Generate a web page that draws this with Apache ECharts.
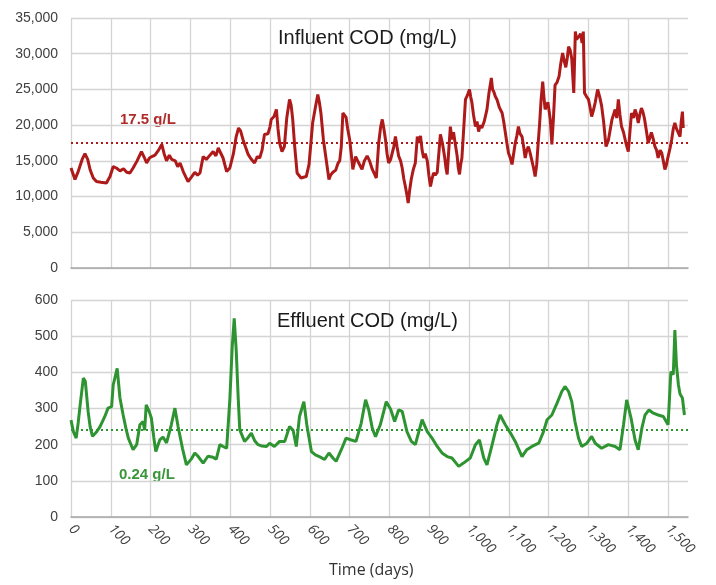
<!DOCTYPE html>
<html><head><meta charset="utf-8">
<script src="https://cdn.jsdelivr.net/npm/echarts@6/dist/echarts.min.js"></script>
<style>html,body{margin:0;padding:0;background:#fff}#c{width:716px;height:585px}</style>
</head><body><div id="c"></div>
<script>
// ---- Data ----
const influentDays = [0,5,10,18,28,35,42,48,56,64,75,89,98,106,114,123,132,140,148,156,166,177,184,190,197,203,211,220,228,234,240,247,253,262,268,274,282,288,294,302,311,318,324,332,340,349,357,364,370,376,382,391,399,408,415,421,426,432,438,445,452,461,468,474,480,486,495,500,503,510,516,520,524,530,536,542,549,553,557,562,568,578,584,591,598,607,614,620,624,628,634,641,648,652,658,665,671,675,679,683,687,691,695,700,704,708,715,722,731,737,744,750,757,762,767,773,778,782,786,790,794,798,803,807,811,815,819,823,828,832,836,840,844,847,851,855,860,865,870,874,878,882,886,890,895,899,903,907,911,915,920,924,928,933,939,942,945,949,953,957,961,965,970,973,976,979,982,986,991,996,1001,1004,1007,1011,1016,1020,1024,1028,1032,1038,1045,1050,1056,1059,1062,1066,1070,1076,1083,1087,1091,1095,1099,1103,1108,1112,1116,1120,1124,1128,1133,1137,1141,1145,1149,1153,1158,1162,1166,1170,1173,1177,1181,1185,1188,1191,1195,1198,1201,1204,1208,1212,1216,1221,1226,1230,1235,1239,1243,1247,1250,1254,1258,1263,1267,1270,1273,1277,1280,1284,1287,1290,1295,1300,1304,1308,1312,1317,1323,1328,1333,1338,1344,1350,1355,1359,1363,1367,1371,1375,1379,1383,1388,1394,1400,1404,1408,1413,1417,1421,1425,1429,1433,1437,1441,1446,1450,1454,1458,1463,1467,1471,1475,1480,1484,1488,1492,1496,1500,1505,1509,1513,1517,1521,1525,1530,1533,1536,1538];
const influentValues = [14000,13200,12400,13500,15200,16000,15200,13750,12600,12100,12000,11900,12800,14200,14000,13600,13900,13400,13300,14000,15000,16300,15500,14700,15400,15600,15800,16500,17300,16000,15000,15800,15200,15000,14200,14700,13500,12800,12100,12700,13400,13000,13300,15600,15200,15800,16300,15700,16800,16100,15400,13500,14000,16000,18400,19600,19200,18000,17000,15900,15300,14700,15600,15400,16500,18700,18800,19800,20800,21200,22200,19500,17500,16300,17000,21000,23600,22800,20800,17000,13300,12600,12700,12800,14500,20300,22500,24300,23200,21600,18000,15200,12400,13000,13400,13700,14700,15000,17000,21700,21500,21100,19500,18000,16000,13800,15600,14800,13800,15000,15700,15000,13800,13200,12600,17500,19800,20800,19500,18000,16000,14700,15200,15400,17000,18400,17000,15700,15000,14000,12500,11400,10200,9100,11000,12500,13800,14700,18400,17500,18500,16500,15400,16000,15000,13000,11400,12500,13300,13000,13400,16000,18700,17500,15400,14000,13100,16500,19800,18000,19000,17500,15700,14000,13100,14500,15400,19000,23600,24200,25000,24000,23200,21500,19800,20500,19100,20000,19600,20500,22200,24500,26600,25000,24700,24000,23600,22500,21700,20500,19000,17500,16100,15500,14500,16000,17500,18500,19800,18800,18400,17000,15400,16500,17000,16200,15000,14000,12800,14500,17000,20000,23600,26100,24000,22200,22800,23200,22000,20800,17300,21000,25600,26000,26800,28500,30100,29000,28100,29500,31000,30500,29300,24500,33100,32000,31900,32500,32800,31500,33100,24500,24000,23600,22500,21200,22000,23200,25000,24000,22700,20500,17000,17900,19500,20800,21500,22200,21000,23600,21500,19800,19000,17500,16300,19000,21700,21000,22200,21500,20300,21500,22400,21800,20800,19000,17500,18200,19000,18000,17000,16500,15400,16500,16100,15000,13800,14500,15600,16800,18000,19500,20300,19500,19300,18400,20500,21900,19600];
const effluentDays = [0,6,13,18,23,31,36,43,48,54,64,73,85,93,102,106,116,123,131,138,144,156,165,173,181,185,189,197,202,208,213,223,231,240,252,261,269,280,290,302,311,319,332,344,357,365,374,382,391,399,405,410,415,420,424,436,445,453,462,470,480,491,499,511,524,537,549,558,566,574,585,593,604,614,624,637,648,658,666,679,691,704,716,729,740,748,757,765,777,792,803,813,823,832,844,855,865,882,895,907,920,932,945,957,974,986,1003,1016,1026,1037,1045,1058,1070,1078,1091,1104,1116,1133,1145,1158,1175,1187,1196,1208,1221,1233,1241,1250,1258,1266,1275,1283,1296,1308,1317,1333,1350,1367,1379,1388,1396,1407,1417,1425,1434,1442,1452,1463,1475,1488,1500,1507,1513,1517,1521,1526,1530,1536,1541];
const effluentValues = [268,236,218,260,310,384,375,292,250,223,235,250,278,301,305,365,411,329,282,245,218,186,200,255,264,240,310,290,273,220,181,213,221,205,255,301,250,190,144,160,177,168,149,168,165,160,200,195,190,324,470,549,462,330,241,209,220,232,210,200,196,195,204,195,209,209,250,240,195,278,319,250,181,172,167,159,177,163,154,186,218,213,209,259,324,296,245,222,255,319,298,264,296,292,236,209,200,269,236,218,195,177,167,163,140,149,163,200,213,163,144,200,255,282,255,232,209,167,186,195,204,236,269,282,315,347,361,347,319,264,218,195,204,223,204,190,200,195,186,255,324,273,213,186,245,282,296,287,282,278,255,402,394,517,420,365,340,329,282];
const influentRef = 17500;
const effluentRef = 240;
const influentRefLabel = '17.5 g/L';
const effluentRefLabel = '0.24 g/L';
const influentTitle = 'Influent COD (mg/L)';
const effluentTitle = 'Effluent COD (mg/L)';
const xTitle = 'Time (days)';

const RED = '#AE1A1A';
const GREEN = '#2E9431';
const fmt = v => Math.round(v).toLocaleString('en-US');
const zip = (a, b) => a.map((d, i) => [d, b[i]]);

const chart = echarts.init(document.getElementById('c'), null, {renderer: 'canvas'});
const gridLine = {show: true, lineStyle: {color: '#d4d4d4', width: 1.3}, showMaxLine: false};
const yLabel = {color: '#404040', fontSize: 14, fontFamily: 'Liberation Sans, Arial', margin: 13, formatter: fmt};

chart.setOption({
  animation: false,
  backgroundColor: '#fff',
  grid: [
    {left: 71, top: 18, width: 617, height: 250, outerBoundsMode: 'none'},
    {left: 71, top: 300, width: 617, height: 217, outerBoundsMode: 'none'}
  ],
  xAxis: [
    {gridIndex: 0, type: 'value', min: 0, max: 1550, interval: 100,
     axisLine: {show: true, lineStyle: {color: '#a6a6a6', width: 1.5}}, axisTick: {show: false},
     axisLabel: {show: false}, splitLine: gridLine},
    {gridIndex: 1, type: 'value', min: 0, max: 1550, interval: 100,
     axisLine: {show: true, lineStyle: {color: '#a6a6a6', width: 1.5}}, axisTick: {show: false},
     axisLabel: {show: true, rotate: -45, margin: 10, color: '#404040', fontSize: 14, fontStyle: 'italic',
       fontFamily: 'Open Sans, DejaVu Sans', formatter: fmt, showMaxLabel: false},
     splitLine: gridLine}
  ],
  yAxis: [
    {gridIndex: 0, type: 'value', min: 0, max: 35000, interval: 5000,
     axisLine: {show: false}, axisTick: {show: false}, axisLabel: yLabel, splitLine: {show: true, lineStyle: {color: '#d4d4d4', width: 1.3}}},
    {gridIndex: 1, type: 'value', min: 0, max: 600, interval: 100,
     axisLine: {show: false}, axisTick: {show: false}, axisLabel: yLabel, splitLine: {show: true, lineStyle: {color: '#d4d4d4', width: 1.3}}}
  ],
  graphic: [
    {type: 'text', left: 278, top: 28, z: 10, style: {text: influentTitle, fill: '#1a1a1a', font: '20px Liberation Sans, Arial'}},
    {type: 'text', left: 277, top: 311, z: 10, style: {text: effluentTitle, fill: '#1a1a1a', font: '20px Liberation Sans, Arial'}},
    {type: 'text', left: 120, top: 112, style: {text: influentRefLabel, fill: '#B02A2A', font: 'bold 15px Liberation Sans, Arial'}},
    {type: 'text', left: 119, top: 467, style: {text: effluentRefLabel, fill: '#3A963A', font: 'bold 15px Liberation Sans, Arial'}},
    {type: 'text', left: 329, top: 562, style: {text: xTitle, fill: '#333', font: '16px Open Sans, DejaVu Sans'}}
  ],
  series: [
    {type: 'line', xAxisIndex: 0, yAxisIndex: 0, data: zip(influentDays, influentValues), showSymbol: false,
     lineStyle: {color: RED, width: 3}, z: 3,
     markLine: {silent: true, symbol: 'none', label: {show: false},
       lineStyle: {color: RED, type: [2, 3], width: 2.2}, data: [{yAxis: influentRef}]}},
    {type: 'line', xAxisIndex: 1, yAxisIndex: 1, data: zip(effluentDays, effluentValues), showSymbol: false,
     lineStyle: {color: GREEN, width: 3}, z: 3,
     markLine: {silent: true, symbol: 'none', label: {show: false},
       lineStyle: {color: GREEN, type: [2, 3], width: 2.2}, data: [{yAxis: effluentRef}]}}
  ]
});
</script></body></html>
